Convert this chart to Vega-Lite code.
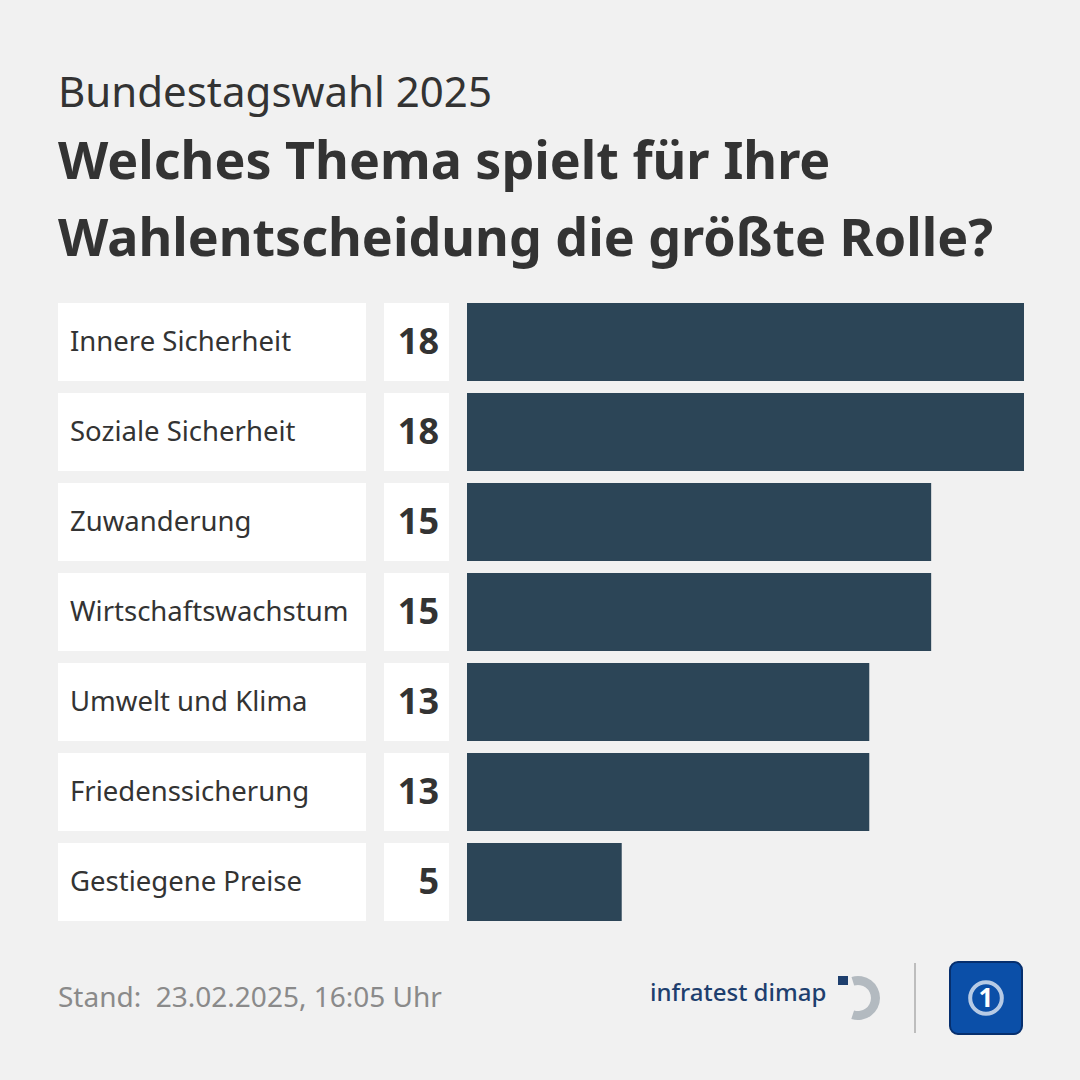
{
  "$schema": "https://vega.github.io/schema/vega-lite/v6.json",
  "background": "#f1f1f1",
  "padding": {"left": 58, "right": 56, "top": 73, "bottom": 42},
  "config": {"view": {"stroke": null}, "font": "Noto Sans"},
  "title": {
    "text": "Bundestagswahl 2025",
    "subtitle": ["Welches Thema spielt für Ihre", "Wahlentscheidung die größte Rolle?"],
    "anchor": "start",
    "font": "Noto Sans",
    "fontSize": 42,
    "fontWeight": 400,
    "color": "#333333",
    "subtitleFont": "Noto Sans",
    "subtitleFontSize": 52,
    "subtitleFontWeight": "bold",
    "subtitleColor": "#333333",
    "subtitleLineHeight": 77,
    "subtitlePadding": 22,
    "offset": 30
  },
  "data": {
    "values": [
      {"Thema": "Innere Sicherheit", "Wert": 18},
      {"Thema": "Soziale Sicherheit", "Wert": 18},
      {"Thema": "Zuwanderung", "Wert": 15},
      {"Thema": "Wirtschaftswachstum", "Wert": 15},
      {"Thema": "Umwelt und Klima", "Wert": 13},
      {"Thema": "Friedenssicherung", "Wert": 13},
      {"Thema": "Gestiegene Preise", "Wert": 5}
    ]
  },
  "vconcat": [
    {
      "hconcat": [
        {
          "width": 308,
          "height": 630,
          "encoding": {
            "y": {"field": "Thema", "type": "nominal", "sort": null, "axis": null,
                  "scale": {"paddingInner": 0.1333, "paddingOuter": 0.0667}}
          },
          "layer": [
            {"mark": {"type": "bar", "color": "#ffffff"},
             "encoding": {"x": {"value": 0}, "x2": {"value": "width"}}},
            {"mark": {"type": "text", "align": "left", "baseline": "middle", "fontSize": 27.5, "color": "#333333", "dx": 12, "dy": 1},
             "encoding": {"x": {"value": 0}, "text": {"field": "Thema"}}}
          ]
        },
        {
          "width": 65,
          "height": 630,
          "encoding": {
            "y": {"field": "Thema", "type": "nominal", "sort": null, "axis": null,
                  "scale": {"paddingInner": 0.1333, "paddingOuter": 0.0667}}
          },
          "layer": [
            {"mark": {"type": "bar", "color": "#ffffff"},
             "encoding": {"x": {"value": 0}, "x2": {"value": "width"}}},
            {"mark": {"type": "text", "align": "right", "baseline": "middle", "fontSize": 36, "fontWeight": "bold", "color": "#333333", "dx": -10, "dy": 1},
             "encoding": {"x": {"value": "width"}, "text": {"field": "Wert"}}}
          ]
        },
        {
          "width": 557,
          "height": 630,
          "mark": {"type": "bar", "color": "#2c4557"},
          "encoding": {
            "y": {"field": "Thema", "type": "nominal", "sort": null, "axis": null,
                  "scale": {"paddingInner": 0.1333, "paddingOuter": 0.0667}},
            "x": {"field": "Wert", "type": "quantitative", "axis": null, "scale": {"domain": [0, 18], "nice": false}}
          }
        }
      ],
      "spacing": 18
    },
    {
      "width": 966,
      "height": 100,
      "data": {"values": [{"stand": "Stand:\u00a0 23.02.2025, 16:05 Uhr", "inst": "infratest dimap", "eins": "1"}]},
      "layer": [
        {"mark": {"type": "text", "align": "left", "baseline": "middle", "fontSize": 28, "color": "#8a8a8a"},
         "encoding": {"x": {"value": 0}, "y": {"value": 60}, "text": {"field": "stand"}}},
        {"mark": {"type": "text", "align": "left", "baseline": "middle", "fontSize": 24, "color": "#1e3f6e", "fontWeight": 500},
         "encoding": {"x": {"value": 592}, "y": {"value": 55}, "text": {"field": "inst"}}},
        {"mark": {"type": "arc", "color": "#b3bac0", "theta": -0.3, "theta2": 3.45, "radius": 22, "radius2": 13},
         "encoding": {"x": {"value": 800}, "y": {"value": 59}}},
        {"mark": {"type": "rect", "color": "#1e3f6e"},
         "encoding": {"x": {"value": 780}, "x2": {"value": 790}, "y": {"value": 37}, "y2": {"value": 46}}},
        {"mark": {"type": "rule", "color": "#bdbdbd", "strokeWidth": 2},
         "encoding": {"x": {"value": 857}, "y": {"value": 24}, "y2": {"value": 94}}},
        {"mark": {"type": "rect", "color": "#0b4fa8", "cornerRadius": 8, "stroke": "#062f6e", "strokeWidth": 2},
         "encoding": {"x": {"value": 892}, "x2": {"value": 964}, "y": {"value": 23}, "y2": {"value": 95}}},
        {"mark": {"type": "point", "shape": "circle", "filled": false, "stroke": "#ffffff", "strokeWidth": 4, "size": 1000},
         "encoding": {"x": {"value": 928}, "y": {"value": 59}}},
        {"mark": {"type": "text", "align": "center", "baseline": "middle", "fontSize": 26, "fontWeight": "bold", "color": "#ffffff"},
         "encoding": {"x": {"value": 928}, "y": {"value": 60}, "text": {"field": "eins"}}}
      ]
    }
  ],
  "spacing": 12
}
